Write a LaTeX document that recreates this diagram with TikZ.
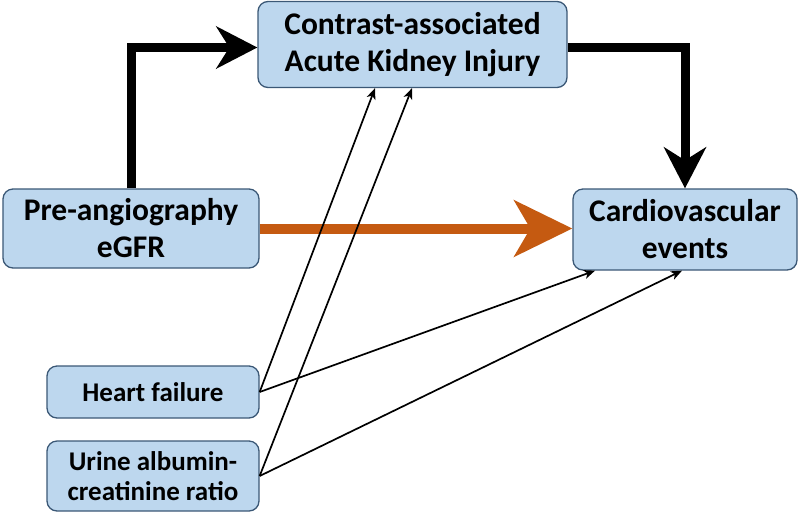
\documentclass[tikz,border=0pt]{standalone}
\usepackage{fontspec}
\setmainfont{Carlito}
\usetikzlibrary{arrows.meta}
\definecolor{boxfill}{HTML}{BDD7EE}
\definecolor{boxline}{HTML}{3B5876}
\definecolor{orangearr}{HTML}{C55A11}
\tikzset{
  box/.style={draw=boxline, fill=boxfill, line width=1.3pt, rounded corners=10pt,
    align=center, inner sep=0pt, text=black, font=\bfseries},
  bigtext/.style={font=\bfseries\fontsize{31.5}{37}\selectfont},
  smalltext/.style={font=\bfseries\fontsize{27}{30}\selectfont},
  thickarr/.style={line width=9pt, -{Stealth[length=41pt,width=42pt,inset=13pt]}},
  orarr/.style={line width=10pt, draw=orangearr, -{Stealth[length=58pt,width=56pt,inset=16pt,fill=orangearr]}},
  thinarr/.style={line width=1.7pt, -{Stealth[length=11pt,width=9pt,inset=3pt]}}
}
\begin{document}
\begin{tikzpicture}[x=1pt,y=1pt]
\useasboundingbox (0,0) rectangle (799,-515);
\node[box,bigtext,minimum width=309pt,minimum height=86pt] (caki) at (412.5,-44.5) {Contrast-associated\\Acute Kidney Injury};
\node[box,bigtext,minimum width=256pt,minimum height=79pt] (pre) at (131,-228.5) {Pre-angiography\\eGFR};
\node[box,bigtext,minimum width=224pt,minimum height=81pt] (cv) at (685,-229.5) {Cardiovascular\\events};
\node[box,smalltext,minimum width=212pt,minimum height=52pt] (hf) at (153,-392) {Heart failure};
\node[box,smalltext,minimum width=212pt,minimum height=70pt] (uacr) at (153,-476) {Urine albumin-\\creatinine ratio};
% thick black arrows
\draw[thickarr] (pre.north) |- ([yshift=-3pt]caki.west);
\draw[thickarr] ([yshift=-2.5pt]caki.east) -| (cv.north);
% orange arrow
\draw[orarr] (pre.east) -- (pre.east -| cv.west);
% thin arrows
\coordinate (c1) at ([xshift=-37.5pt]caki.south);
\coordinate (c2) at ([xshift=-0.5pt]caki.south);
\coordinate (e1) at ([xshift=-90pt]cv.south);
\coordinate (e2) at ([xshift=-3pt]cv.south);
\draw[thinarr] (hf.east) -- (c1);
\draw[thinarr] (uacr.east) -- (c2);
\draw[thinarr] (hf.east) -- (e1);
\draw[thinarr] (uacr.east) -- (e2);
\end{tikzpicture}
\end{document}
